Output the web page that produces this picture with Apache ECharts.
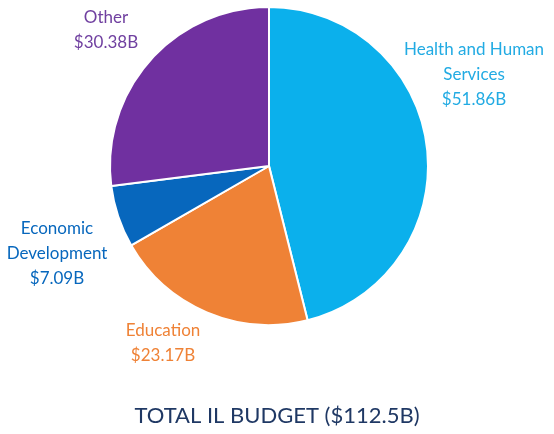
<!DOCTYPE html>
<html>
<head>
<meta charset="utf-8">
<script src="https://cdn.jsdelivr.net/npm/echarts@6/dist/echarts.min.js"></script>
<style>
  html, body { margin: 0; padding: 0; background: #ffffff; }
  #chart { width: 554px; height: 434px; }
</style>
</head>
<body>
<div id="chart"></div>
<script>
// Illinois budget by area, billions of dollars
const categories = ['Health and Human Services', 'Education', 'Economic Development', 'Other'];
const labelNames = ['Health and Human\nServices', 'Education', 'Economic\nDevelopment', 'Other'];
const values = [51.86, 23.17, 7.09, 30.38];
const colors = ['#0BB0EC', '#EF8236', '#0767BD', '#7030A0'];
const labelColors = ['#22ABE3', '#EF8236', '#0767BD', '#7040A0'];
const titleText = 'TOTAL IL BUDGET ($112.5B)';

// label anchor points (centre of each text block)
const labelSpots = [[474, 75], [163, 343], [57, 254], [106, 30]];

const chart = echarts.init(document.getElementById('chart'));
chart.setOption({
  animation: false,
  title: {
    text: titleText,
    left: 'center',
    top: 400,
    textStyle: { fontFamily: 'Lato', fontSize: 22, fontWeight: 'normal', color: '#1F3864' }
  },
  series: [{
    type: 'pie',
    center: [269, 166],
    radius: 159,
    startAngle: 90,
    clockwise: true,
    data: categories.map((c, i) => ({
      name: c,
      value: values[i],
      itemStyle: { color: colors[i] },
      label: {
        color: labelColors[i],
        formatter: labelNames[i] + '\n$' + values[i].toFixed(2) + 'B'
      }
    })),
    itemStyle: { borderColor: '#ffffff', borderWidth: 2 },
    label: {
      show: true,
      position: 'outside',
      overflow: 'none',
      fontFamily: 'Lato',
      fontSize: 17,
      lineHeight: 25,
      align: 'center',
      verticalAlign: 'middle'
    },
    labelLine: { show: false },
    labelLayout: function (p) {
      const s = labelSpots[p.dataIndex];
      return { x: s[0], y: s[1], align: 'center', verticalAlign: 'middle' };
    }
  }]
});
</script>
</body>
</html>
